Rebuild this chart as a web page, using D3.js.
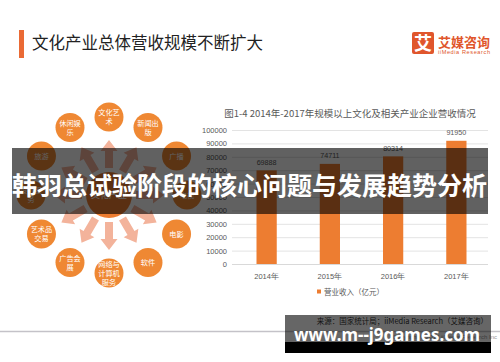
<!DOCTYPE html>
<html>
<head>
<meta charset="utf-8">
<script src="https://cdn.jsdelivr.net/npm/d3@7"></script>
<style>
body { margin: 0; background: #fff; }
svg { display: block; font-family: "Noto Sans CJK SC", "Noto Sans", sans-serif; }
</style>
</head>
<body>
<script>
// data
var years = ['2014年', '2015年', '2016年', '2017年'];
var revenue = [69888, 74711, 80314, 91950];
var yTicks = [0, 10000, 20000, 30000, 40000, 50000, 60000, 70000, 80000, 90000, 100000];
var sectors = [['文化艺', '术'], ['新闻出', '版'], ['广播'], ['电视'], ['电影'], ['软件'],
    ['网络与', '计算机', '服务'], ['广告会', '展'], ['艺术品', '交易'], ['设计服', '务'], ['旅游'], ['休闲娱', '乐']];
var centerLabel = '文化产业';
var pageTitle = '文化产业总体营收规模不断扩大';
var chartTitle = '图1-4 2014年-2017年规模以上文化及相关产业企业营收情况';
var seriesName = '营业收入（亿元）';
var sourceText = '来源：国家统计局；iiMedia Research（艾媒咨询）';
var copyText = 'Copyright © 2018 iiMedia Research Inc';
var bannerText = '韩羽总试验阶段的核心问题与发展趋势分析';
var siteText = 'www.m--j9games.com';

var width = 500, height = 362;
var orange = '#ed7d31';
var grey = '#595959';

var svg = d3.select('body').append('svg')
    .attr('width', width)
    .attr('height', height);

// header
svg.append('rect').attr('x', 19).attr('y', 30).attr('width', 5).attr('height', 28).attr('fill', '#ea6a35');
svg.append('text').attr('x', 32).attr('y', 49)
    .attr('font-size', 16.5).attr('fill', '#222')
    .text(pageTitle);

// logo
svg.append('rect').attr('x', 412).attr('y', 32).attr('width', 22).attr('height', 22).attr('rx', 2).attr('fill', '#e0562c');
svg.append('text').attr('x', 423).attr('y', 50).attr('text-anchor', 'middle')
    .attr('font-size', 18).attr('font-weight', 'bold').attr('fill', '#fff').text('艾');
svg.append('text').attr('x', 438).attr('y', 46.5)
    .attr('font-size', 13).attr('font-weight', 'bold').attr('fill', '#e0562c').text('艾媒咨询');
svg.append('text').attr('x', 438).attr('y', 53.5)
    .attr('font-size', 5.6).attr('fill', '#e0562c').attr('font-family', 'Liberation Sans')
    .attr('textLength', 52).text('iiMedia Research');

// ring diagram
var cx = 109, cy = 195, ringR = 78;
var angle = d3.scaleLinear().domain([0, sectors.length]).range([0, 2 * Math.PI]);

var ring = svg.append('g').attr('transform', 'translate(' + cx + ',' + cy + ')');

var arrowPts = [[27, -4], [44, -4], [44, -8.5], [55, 0], [44, 8.5], [44, 4], [27, 4]];
ring.selectAll('.arrow')
    .data(sectors)
    .enter()
    .append('polygon')
    .attr('points', arrowPts.map(function(p){ return p.join(','); }).join(' '))
    .attr('transform', function(d, i){ return 'rotate(' + (angle(i) * 180 / Math.PI - 90) + ')'; })
    .attr('fill', '#f3b39b');

ring.append('circle').attr('r', 23).attr('fill', orange);
ring.append('text').attr('y', 3).attr('text-anchor', 'middle').attr('font-size', 9)
    .attr('fill', '#fff').text(centerLabel);

var node = ring.selectAll('.node')
    .data(sectors)
    .enter()
    .append('g')
    .attr('transform', function(d, i){
        return 'translate(' + (ringR * Math.sin(angle(i))) + ',' + (-ringR * Math.cos(angle(i))) + ')';
    });
node.append('circle').attr('r', 14.5).attr('fill', '#ef8833');
node.each(function(d){
    var g = d3.select(this);
    var lh = 9;
    d.forEach(function(line, k){
        g.append('text')
            .attr('text-anchor', 'middle')
            .attr('y', (k - (d.length - 1) / 2) * lh + 2.8)
            .attr('font-size', 7.2)
            .attr('fill', '#fff')
            .text(line);
    });
});

// bar chart
var x = d3.scaleBand().domain(years).range([235, 488]).paddingInner(0.68).paddingOuter(0.34);
var y = d3.scaleLinear().domain([0, 100000]).range([264, 130]);

svg.append('text').attr('x', 350).attr('y', 117).attr('text-anchor', 'middle')
    .attr('font-size', 9.5).attr('fill', grey).text(chartTitle);

var yAxis = svg.append('g')
    .attr('transform', 'translate(232,0)')
    .call(d3.axisLeft(y).tickValues(yTicks).tickSize(-256).tickPadding(5).tickFormat(d3.format('d')));
yAxis.select('.domain').remove();
yAxis.selectAll('line').attr('stroke', '#e3e3e3');
yAxis.selectAll('text').attr('fill', grey).attr('font-size', 7.5).attr('font-family', 'Liberation Sans');

var xAxis = svg.append('g')
    .attr('transform', 'translate(0,264)')
    .call(d3.axisBottom(x).tickSize(0).tickPadding(10));
xAxis.select('.domain').attr('stroke', '#d9d9d9').attr('d', 'M232,0.5H488');
xAxis.selectAll('text').attr('fill', grey).attr('font-size', 7.5);

svg.selectAll('.bar')
    .data(revenue)
    .enter()
    .append('rect')
    .attr('x', function(d, i){ return x(years[i]); })
    .attr('y', function(d){ return y(d); })
    .attr('width', x.bandwidth())
    .attr('height', function(d){ return y(0) - y(d); })
    .attr('fill', orange);

svg.selectAll('.val')
    .data(revenue)
    .enter()
    .append('text')
    .attr('x', function(d, i){ return x(years[i]) + x.bandwidth() / 2; })
    .attr('y', function(d){ return y(d) - 5.5; })
    .attr('text-anchor', 'middle')
    .attr('font-size', 7.2).attr('font-family', 'Liberation Sans')
    .attr('fill', grey)
    .text(function(d){ return d; });

// legend
svg.append('rect').attr('x', 317).attr('y', 289.5).attr('width', 4).attr('height', 4).attr('fill', orange);
svg.append('text').attr('x', 324).attr('y', 294.5).attr('font-size', 7.5).attr('fill', grey).text(seriesName);

// footer of slide
svg.append('text').attr('x', 488).attr('y', 323.5).attr('text-anchor', 'end')
    .attr('font-size', 7.5).attr('fill', '#333').text(sourceText);
svg.append('line').attr('x1', 0).attr('x2', 500).attr('y1', 331.5).attr('y2', 331.5)
    .attr('stroke', '#c4c2c8').attr('stroke-width', 1.5);
svg.append('text').attr('x', 497).attr('y', 339).attr('text-anchor', 'end')
    .attr('font-size', 6).attr('fill', '#999').attr('font-family', 'Liberation Sans').text(copyText);

// overlay banner
svg.append('rect').attr('x', 12).attr('y', 148).attr('width', 476).attr('height', 66)
    .attr('fill', '#000').attr('opacity', 0.62);
svg.append('text').attr('x', 249.5).attr('y', 195).attr('text-anchor', 'middle')
    .attr('font-size', 25).attr('font-weight', 'bold').attr('fill', '#fff')
    .text(bannerText);

// site banner
svg.append('rect').attr('x', 285).attr('y', 315).attr('width', 206).attr('height', 27)
    .attr('fill', '#000').attr('opacity', 0.6);
svg.append('rect').attr('x', 285).attr('y', 342).attr('width', 206).attr('height', 11).attr('fill', '#000');
svg.append('text').attr('x', 294).attr('y', 341)
    .attr('font-size', 17).attr('font-weight', 'bold').attr('fill', '#fff')
    .attr('font-family', 'Noto Sans')
    .attr('textLength', 186).attr('lengthAdjust', 'spacingAndGlyphs')
    .text(siteText);
</script>
</body>
</html>
